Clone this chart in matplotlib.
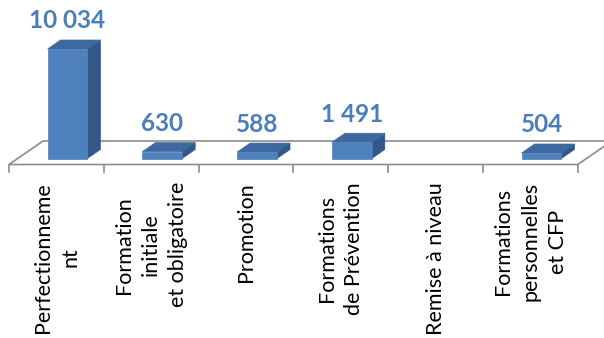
import numpy as np
import matplotlib
matplotlib.use("Agg")
import matplotlib.pyplot as plt
from matplotlib.patches import Polygon
from matplotlib.lines import Line2D

# Training categories and number of participants
categories = [
    "Perfectionneme\nnt",
    "Formation\ninitiale\net obligatoire",
    "Promotion",
    "Formations\nde Prévention",
    "Remise à niveau",
    "Formations\npersonnelles\net CFP",
]
values = [10034, 630, 588, 1491, None, 504]

# Styling
FRONT = "#4F81BD"
TOP = "#3E69A0"
SIDE = "#335787"
LABEL_BLUE = "#4A7EBB"
FLOOR_EDGE = "#8C8C8C"
FONT = ["Lato", "DejaVu Sans"]

W, H, DPI = 604, 338, 100
fig = plt.figure(figsize=(W / DPI, H / DPI), dpi=DPI)
ax = fig.add_axes([0, 0, 1, 1])
ax.set_axis_off()

# Axis scales: categories along x, participant counts along y
cat_px = 94.8          # pixels per category on the front edge
left_px = 9.0          # front edge start
base_px = 158.5        # baseline (value 0) from top
val_per_px = 10034 / 109.5
ax.set_xlim(-0.5 - left_px / cat_px, -0.5 + (W - left_px) / cat_px)
ax.set_ylim(-(H - base_px) * val_per_px, base_px * val_per_px)

DEPTH = np.array([13.0, 9.0])      # 3D depth of a bar, pixels
FLOOR_DEPTH = np.array([34.0, 23.5])
FLOOR_DROP = 6.0                   # floor front edge below bar base
BAR_W = 0.42
BAR_SHIFT = 0.117

def to_px(pt):
    return ax.transData.transform(pt)

def from_px(p):
    return ax.transData.inverted().transform(p)

def shifted(pt, d):
    return from_px(to_px(pt) + d)

# Floor
n = len(categories)
fl = shifted((-0.5, 0), (0, -FLOOR_DROP))
fr = shifted((n - 0.5, 0), (0, -FLOOR_DROP))
bl = shifted(fl, FLOOR_DEPTH)
br = shifted(fr, FLOOR_DEPTH)
ax.add_patch(Polygon([fl, fr, br, bl], closed=True, facecolor="white",
                     edgecolor=FLOOR_EDGE, lw=1.2, zorder=1, clip_on=False))

# Tick marks on the front edge
for k in range(n + 1):
    top_pt = shifted((k - 0.5, 0), (0, -FLOOR_DROP))
    bot_pt = shifted(top_pt, (0, -7))
    ax.add_line(Line2D([top_pt[0], bot_pt[0]], [top_pt[1], bot_pt[1]],
                       color=FLOOR_EDGE, lw=1.2, zorder=1))

# Bars
for i, v in enumerate(values):
    if v is None:
        continue
    c = i + BAR_SHIFT
    x0, x1 = c - BAR_W / 2, c + BAR_W / 2
    front = [(x0, 0), (x1, 0), (x1, v), (x0, v)]
    side = [(x1, 0), shifted((x1, 0), DEPTH), shifted((x1, v), DEPTH), (x1, v)]
    top = [(x0, v), (x1, v), shifted((x1, v), DEPTH), shifted((x0, v), DEPTH)]
    ax.add_patch(Polygon(side, closed=True, facecolor=SIDE, edgecolor=SIDE, lw=0.5, zorder=3))
    ax.add_patch(Polygon(top, closed=True, facecolor=TOP, edgecolor=TOP, lw=0.5, zorder=3))
    ax.add_patch(Polygon(front, closed=True, facecolor=FRONT, edgecolor=FRONT, lw=0.5, zorder=4))
    label = f"{v:,}".replace(",", " ")
    ax.annotate(label, xy=(c, v), xytext=(0, 28), textcoords="offset pixels",
                ha="center", va="center", fontsize=17.5, fontweight="bold",
                color=LABEL_BLUE, family=FONT, zorder=5)

# Category labels, rotated below the floor
for i, name in enumerate(categories):
    ax.annotate(name, xy=(i, 0), xytext=(0, -23.5), textcoords="offset pixels",
                ha="center", va="top", rotation=90, multialignment="center",
                fontsize=15.5, linespacing=1.45, color="black", family=FONT)

fig.savefig("out.png", dpi=DPI)
